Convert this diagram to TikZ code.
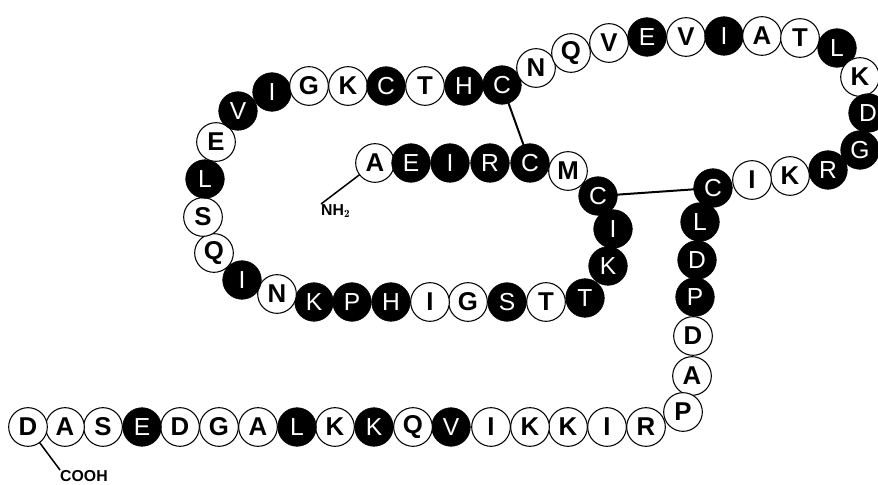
\documentclass[tikz,border=0pt]{standalone}
\usepackage{fontspec}
\setsansfont{Liberation Sans}

\tikzset{
  res_w/.style={circle, draw=black, line width=0.9pt, fill=white,
      minimum size=1.16cm, inner sep=0pt,
      font=\sffamily\bfseries\fontsize{22}{22}\selectfont},
  res_b/.style={circle, draw=black, fill=black, text=white,
      minimum size=1.16cm, inner sep=0pt,
      font=\sffamily\fontsize{21}{21}\selectfont},
  end_lbl/.style={inner sep=0pt, font=\sffamily\bfseries\fontsize{13.5}{13.5}\selectfont},
  ss_bond/.style={line width=1.7pt},
}
\def\PxScale {0.03cm}

\begin{document}
\begin{tikzpicture}[x=\PxScale,y=-\PxScale]
        \useasboundingbox (0,0) rectangle (878,485);
        % positions of the residues, along the chain from NH2 to COOH
        \foreach \n/\x/\y in {1/375/163, 2/411/163, 3/450/163, 4/490/163, 5/530/163,
            6/568/171, 7/598/196, 8/613/229, 9/608/266, 10/585/298,
            11/546/302, 12/507/302, 13/468/302, 14/430/302, 15/391/302,
            16/352/302, 17/314/302, 18/277/294, 19/242/280, 20/214/253,
            21/203/217, 22/205/179, 23/216/142, 24/238/111, 25/272/92,
            26/309/86, 27/348/86, 28/386/86, 29/425/86, 30/464/86,
            31/502/85, 32/536/68, 33/571/53, 34/609/43, 35/647/37,
            36/686/37, 37/724/36, 38/762/36, 39/800/38, 40/837/48,
            41/860/77, 42/868/113, 43/860/150, 44/828/170, 45/790/176,
            46/752/180, 47/713/188, 48/700/222, 49/697/260, 50/695/297,
            51/693/336, 52/692/376, 53/683/412, 54/646/427, 55/607/427,
            56/568/427, 57/530/427, 58/491/427, 59/451/427, 60/413/427,
            61/374/427, 62/335/427, 63/297/427, 64/258/427, 65/219/427,
            66/180/427, 67/142/427, 68/103/427, 69/65/427, 70/28/427} {
            \coordinate (p\n) at (\x,\y);
          }
        % ends and disulfide bridges
        \node[end_lbl, anchor=north west] (nh2) at (321,204) {NH$_{\mathbf 2}$};
        \node[end_lbl, anchor=north west] (cooh) at (60,470) {COOH};
        \draw[line width=1.3pt] (p1) -- (nh2.north west);
        \draw[line width=1.3pt] (p70) -- (cooh.north west);
        \draw[ss_bond] (p31) -- (p5);
        \draw[ss_bond] (p7) -- (p47);
        % the residues
        \foreach \n/\aa/\k in {1/A/w, 2/E/b, 3/I/b, 4/R/b, 5/C/b, 6/M/w, 7/C/b, 8/I/b,
            9/K/b, 10/T/b, 11/T/w, 12/S/b, 13/G/w, 14/I/w, 15/H/b, 16/P/b,
            17/K/b, 18/N/w, 19/I/b, 20/Q/w, 21/S/w, 22/L/b, 23/E/w, 24/V/b,
            25/I/b, 26/G/w, 27/K/w, 28/C/b, 29/T/w, 30/H/b, 31/C/b, 32/N/w,
            33/Q/w, 34/V/w, 35/E/b, 36/V/w, 37/I/b, 38/A/w, 39/T/w, 40/L/b,
            41/K/w, 42/D/b, 43/G/b, 44/R/b, 45/K/w, 46/I/w, 47/C/b, 48/L/b,
            49/D/b, 50/P/b, 51/D/w, 52/A/w, 53/P/w, 54/R/w, 55/I/w, 56/K/w,
            57/K/w, 58/I/w, 59/V/b, 60/Q/w, 61/K/b, 62/K/w, 63/L/b, 64/A/w,
            65/G/w, 66/D/w, 67/E/b, 68/S/w, 69/A/w, 70/D/w} {
            \node[res_\k] (r\n) at (p\n) {\aa};
          }
      \end{tikzpicture}
\end{document}
